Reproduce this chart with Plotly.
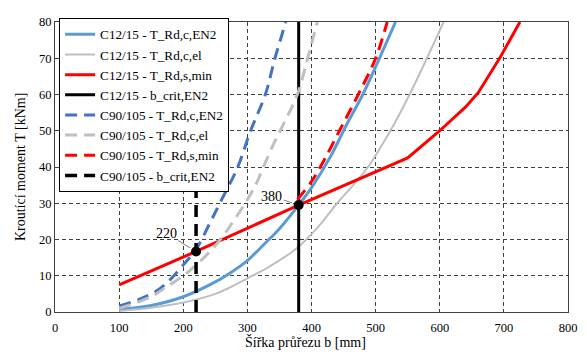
import plotly.graph_objects as go

# C12/15 series
b_c12_ec2 = [100, 150, 200, 250, 275, 300, 325, 350, 380, 400, 430, 455, 480, 506, 531]
T_c12_ec2 = [0.7, 1.8, 4.2, 8.3, 11, 14.2, 18.5, 23, 29.5, 34.3, 43, 51.8, 60, 70, 80]

b_c12_el = [100, 150, 200, 250, 273, 300, 335, 377, 408, 440, 465, 488, 523, 553, 580, 606]
T_c12_el = [0.3, 1.2, 2.6, 5.0, 6.8, 9.3, 12.6, 17.6, 23, 30, 35, 40, 50, 60, 70, 80]

b_c12_s = [100, 220, 380, 460, 550, 600, 640, 660, 695, 725]
T_c12_s = [7.5, 16.7, 29.5, 35.7, 42.5, 50, 56.5, 60.5, 70.5, 80]

b_c12_crit = [380, 380]
T_c12_crit = [0, 80]

# C90/105 series
b_c90_ec2 = [100, 130, 160, 180, 200, 220, 240, 257, 285, 305, 328, 343, 360]
T_c90_ec2 = [1.7, 3.4, 6.0, 9.0, 13.0, 17.3, 24, 30, 40, 50, 60, 70, 80]

b_c90_el = [100, 150, 170, 200, 230, 257, 280, 300, 315, 325, 341, 354, 378, 394, 409]
T_c90_el = [1.0, 4.2, 6.5, 10, 14.6, 19.8, 25.5, 31, 35.8, 40, 46.4, 51, 60, 70, 80]

b_c90_s = [378, 400, 420, 445, 473, 500, 518]
T_c90_s = [31, 36, 42, 50.5, 60, 70, 80]

b_c90_crit = [220, 220]
T_c90_crit = [0, 80]

# critical points
crit_b = [220, 380]
crit_T = [16.7, 29.5]
crit_labels = ["220", "380"]

x_ticks = [0, 100, 200, 300, 400, 500, 600, 700, 800]
y_ticks = [0, 10, 20, 30, 40, 50, 60, 70, 80]

x_title = "Šířka průřezu b [mm]"
y_title = "Kroutící moment T [kNm]"

FONT = "Liberation Serif"
DASH = "12px,7px"

fig = go.Figure()

def add(x, y, name, color, width, dash="solid", shape="spline"):
    fig.add_trace(go.Scatter(x=x, y=y, mode="lines", name=name,
                             line=dict(color=color, width=width, dash=dash,
                                       shape=shape)))

add(b_c12_ec2, T_c12_ec2, "C12/15 - T_Rd,c,EN2", "#5B9BD5", 3)
add(b_c12_el, T_c12_el, "C12/15 - T_Rd,c,el", "#BFBFBF", 2)
add(b_c12_s, T_c12_s, "C12/15 - T_Rd,s,min", "#FF0000", 3, shape="linear")
add(b_c12_crit, T_c12_crit, "C12/15 - b_crit,EN2", "#000000", 3, shape="linear")
add(b_c90_ec2, T_c90_ec2, "C90/105 - T_Rd,c,EN2", "#4472C4", 3, DASH)
add(b_c90_el, T_c90_el, "C90/105 - T_Rd,c,el", "#BFBFBF", 3, DASH)
add(b_c90_s, T_c90_s, "C90/105 - T_Rd,s,min", "#FF0000", 3, DASH)
add(b_c90_crit, T_c90_crit, "C90/105 - b_crit,EN2", "#000000", 3.5, DASH, "linear")

fig.add_trace(go.Scatter(x=crit_b, y=crit_T, mode="markers", showlegend=False,
                         marker=dict(color="#000000", size=10)))

offsets = [(-30, -18), (-27, -9)]
for bx, ty, lab, (ax, ay) in zip(crit_b, crit_T, crit_labels, offsets):
    fig.add_annotation(x=bx, y=ty, text=lab, showarrow=True, ax=ax, ay=ay,
                       arrowhead=0, arrowwidth=1, arrowcolor="#808080", standoff=7,
                       font=dict(family=FONT, size=14, color="#000000"))

# axis titles as annotations for exact placement
fig.add_annotation(text=x_title, xref="paper", yref="paper", x=0.489, y=-0.104,
                   xanchor="center", yanchor="middle", showarrow=False,
                   font=dict(family=FONT, size=14, color="#000000"))
fig.add_annotation(text=y_title, xref="paper", yref="paper", x=-0.068, y=0.5,
                   xanchor="center", yanchor="middle", showarrow=False, textangle=-90,
                   font=dict(family=FONT, size=14, color="#000000"))

# page body has an 8px default margin: figure is shrunk by 8px to compensate
fig.update_layout(
    width=579, height=348,
    margin=dict(l=47, r=19, t=7, b=44),
    paper_bgcolor="white", plot_bgcolor="white",
    font=dict(family=FONT, size=13, color="#000000"),
    legend=dict(x=0.008, y=1.013, xanchor="left", yanchor="top",
                bgcolor="white", bordercolor="#000000", borderwidth=1,
                font=dict(family=FONT, size=13.2), itemwidth=30,
                tracegroupgap=0, maxheight=1),
    showlegend=True,
)
fig.update_xaxes(range=[0, 800], tickvals=x_ticks, ticks="", showgrid=True,
                 gridcolor="#404040", gridwidth=1, griddash="4px,3px",
                 showline=True, linecolor="#404040", linewidth=1, mirror=True,
                 zeroline=False, tickfont=dict(family=FONT, size=12.5),
                 ticklabelstandoff=4)
fig.update_yaxes(range=[0, 80], tickvals=y_ticks, ticks="", showgrid=True,
                 gridcolor="#404040", gridwidth=1, griddash="4px,3px",
                 showline=True, linecolor="#404040", linewidth=1, mirror=True,
                 zeroline=False, tickfont=dict(family=FONT, size=12.5))

fig.write_html("out.html")
